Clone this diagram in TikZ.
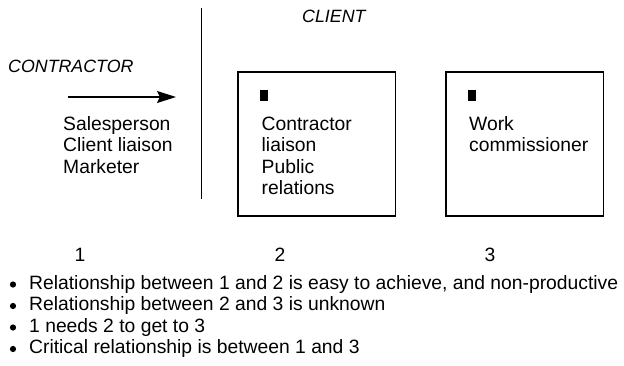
\documentclass[tikz,border=0pt]{standalone}
\usepackage{fontspec}
\setmainfont{Liberation Sans}
\usetikzlibrary{arrows.meta}
\begin{document}
\begin{tikzpicture}[x=1pt,y=-1pt,
  txt/.style={anchor=base west,inner sep=0pt,align=left,
    font=\fontsize{19.3}{21.5}\selectfont},
  head/.style={anchor=base west,inner sep=0pt,
    font=\fontsize{17.8}{20}\selectfont\itshape},
  num/.style={anchor=base,inner sep=0pt,font=\fontsize{19.3}{21.5}\selectfont},
  party/.style={draw,line width=1.2pt,inner sep=0pt},
  dot/.style={circle,fill=black,inner sep=0pt,minimum size=6.2pt}]
\useasboundingbox (0,0) rectangle (624,365);

% dividing line between contractor and client sides
\coordinate (divtop) at (201.5,8);
\coordinate (divbot) at (201.5,199);
\draw[line width=1.3pt] (divtop) -- (divbot);

% headings
\node[head] (client) at (302,22) {CLIENT};
\node[head] (contractor) at (8,72) {CONTRACTOR};

% approach arrow
\coordinate (arrA) at (68,97);
\coordinate (arrB) at (176,97);
\draw[line width=1.2pt,-{Stealth[length=19pt,width=12pt,inset=3pt]}] (arrA) -- (arrB);

% contractor roles (multi-line nodes sit on the baseline of their last line)
\node[txt] (roles) at (63,173) {Salesperson\\Client liaison\\Marketer};

% client boxes
\draw[party] (238,72) rectangle (395.5,216);
\draw[party] (446,72) rectangle (603.5,216);
\fill (260,90) rectangle (268,100.5);
\fill (468,90) rectangle (476,100.5);
\node[txt] (liaison) at (261.5,194.5) {Contractor\\liaison\\Public\\relations};
\node[txt] (work) at (469,151.5) {Work\\commissioner};

% position numbers
\node[num] (n1) at (80,261) {1};
\node[num] (n2) at (280,261) {2};
\node[num] (n3) at (490,261) {3};

% notes
\foreach \i/\t in {1/{Relationship between 1 and 2 is easy to achieve, and non-productive},
                   2/{Relationship between 2 and 3 is unknown},
                   3/{1 needs 2 to get to 3},
                   4/{Critical relationship is between 1 and 3}}{
  \node[dot] (b\i) at (13,284.5+21.5*\i-21.5) {};
  \node[txt] (t\i) at (29,289+21.5*\i-21.5) {\t};
}
\end{tikzpicture}
\end{document}
